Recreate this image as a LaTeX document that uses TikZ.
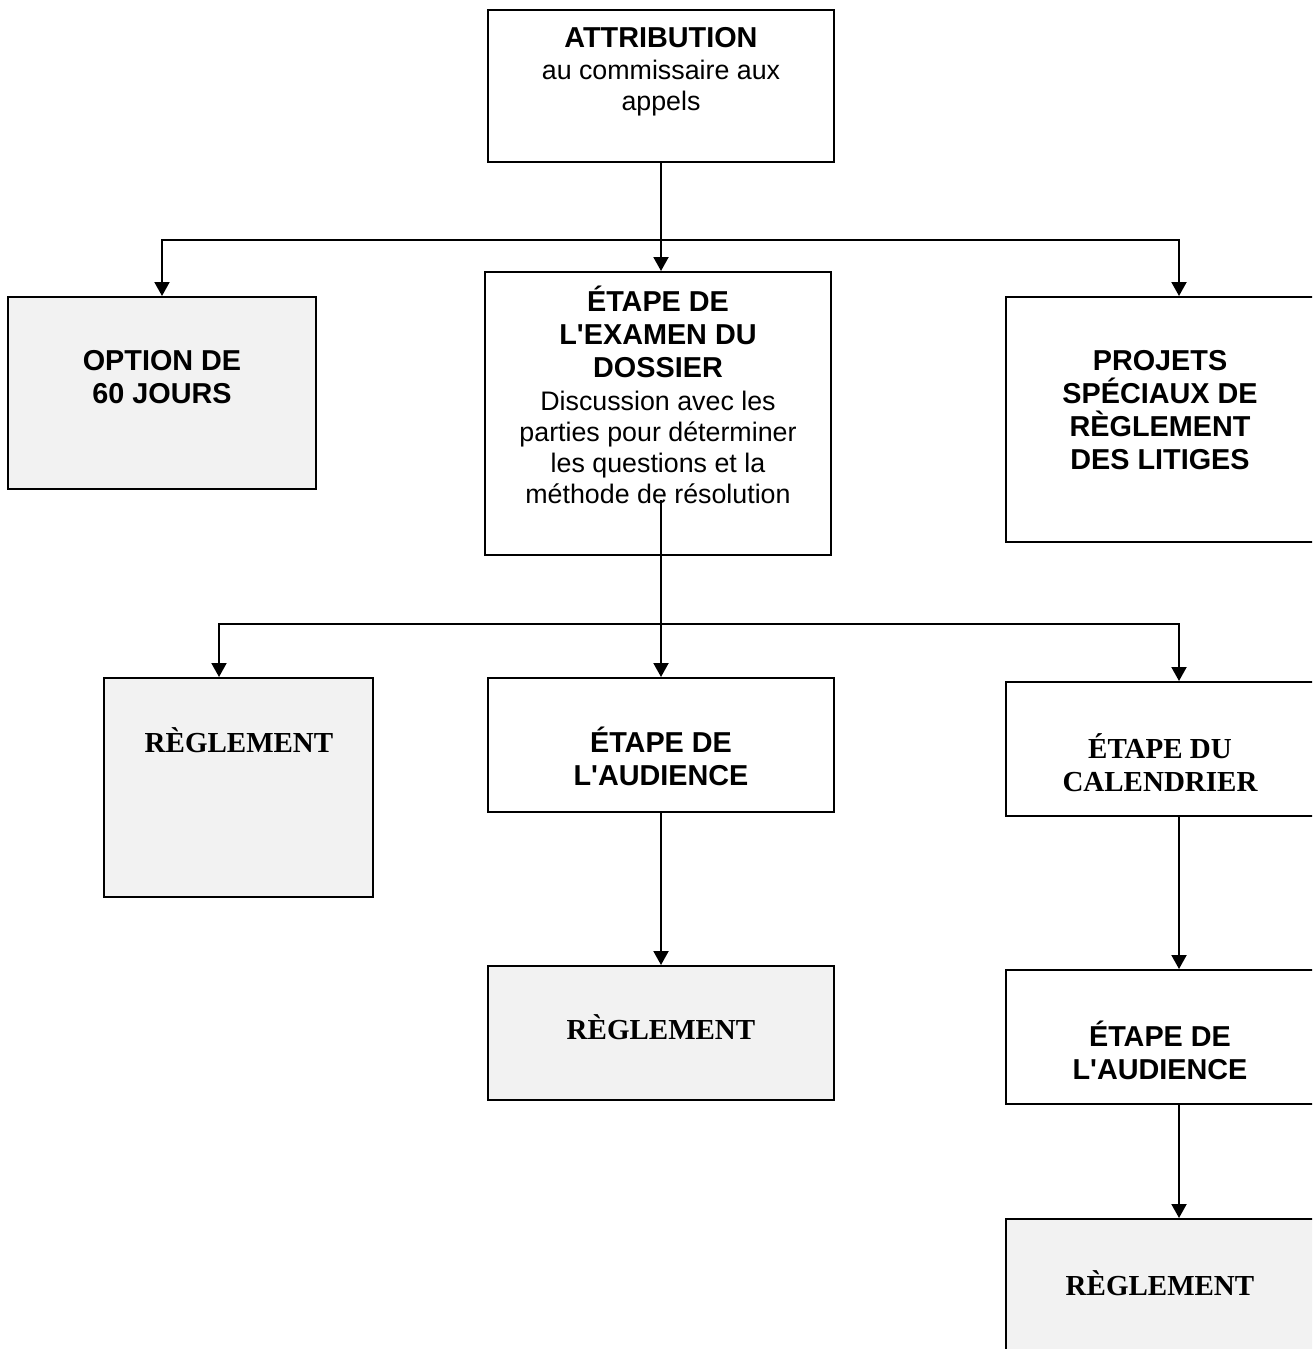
\documentclass[tikz,border=0pt]{standalone}
\usepackage{fontspec}
\setmainfont{Liberation Serif}
\setsansfont{Liberation Sans}
\usetikzlibrary{arrows.meta}
\definecolor{boxgrey}{HTML}{F2F2F2}
\newcommand{\plainline}{\mdseries\fontsize{13.4}{16.5}\selectfont}

\begin{document}
\begin{tikzpicture}[x=0.5pt,y=-0.5pt,line width=1pt,
        >={Triangle[length=7pt,width=7.5pt]},
        box/.style={rectangle,draw=black,fill=white,inner sep=0pt,minimum width=173pt,minimum height=67pt},
        grey box/.style={box,fill=boxgrey},
        head/.style={font=\sffamily\bfseries\fontsize{14.4}{16.5}\selectfont,align=center,inner sep=0pt},
        serif head/.style={font=\rmfamily\bfseries\fontsize{14.5}{16.5}\selectfont,align=center,inner sep=0pt}]

    \useasboundingbox (0,0) rectangle (1312,1349);
    \clip (0,0) rectangle (1312,1349);

    % boxes
    \node[box, minimum height=76pt] (attr) at (661,86) {};
    \node[grey box, minimum width=154pt, minimum height=96pt] (opt) at (162,393) {};
    \node[box, minimum height=141.5pt] (exam) at (658,413.5) {};
    \node[box, minimum height=122.5pt] (proj) at (1179,419.5) {};
    \node[grey box, minimum width=134.5pt, minimum height=109.5pt] (regl1) at (238.5,787.5) {};
    \node[box] (aud1) at (661,745) {};
    \node[box] (cal) at (1179,749) {};
    \node[grey box] (regl2) at (661,1033) {};
    \node[box] (aud2) at (1179,1037) {};
    \node[grey box, minimum height=90pt] (regl3) at (1179,1309) {};

    % texts
    \node[head] (attr-t) at (661,72) {ATTRIBUTION\\[-0.5pt] \plainline au commissaire aux\\[-1pt] \plainline appels};
    \node[head] (opt-t) at (162,377) {OPTION DE\\ 60 JOURS};
    \node[head] (exam-t) at (658,395) {ÉTAPE DE\\ L\textquotesingle EXAMEN DU\\ DOSSIER\\
        \plainline Discussion avec les\\[-1pt] \plainline parties pour déterminer\\[-1pt]
        \plainline les questions et la\\[-1pt] \plainline méthode de résolution};
    \node[head] (proj-t) at (1160,410) {PROJETS\\ SPÉCIAUX DE\\ RÈGLEMENT\\ DES LITIGES};
    \node[serif head] (regl1-t) at (239,740) {RÈGLEMENT};
    \node[head] (aud1-t) at (661,756) {ÉTAPE DE\\ L\textquotesingle AUDIENCE};
    \node[serif head] (cal-t) at (1160,763) {ÉTAPE DU\\ CALENDRIER};
    \node[serif head] (regl2-t) at (661,1027) {RÈGLEMENT};
    \node[head] (aud2-t) at (1160,1050) {ÉTAPE DE\\ L\textquotesingle AUDIENCE};
    \node[serif head] (regl3-t) at (1160,1283) {RÈGLEMENT};

    % connectors
    \coordinate (split1) at (661,240);
    \coordinate (exam-out) at (661,500);
    \coordinate (split2) at (661,624);

    \draw[->] (attr.south) -- (attr.south |- exam.north);
    \draw[->] (split1) -| (opt.north);
    \draw[->] (split1) -| (proj.north);
    \draw (exam-out) -- (split2);
    \draw[->] (split2) -| ([xshift=-9.75pt]regl1.north);
    \draw[->] (split2) -- (aud1.north);
    \draw[->] (split2) -| (cal.north);
    \path[->]
    (aud1) edge (regl2)
    (cal) edge (aud2)
    (aud2) edge (regl3);

\end{tikzpicture}
\end{document}
